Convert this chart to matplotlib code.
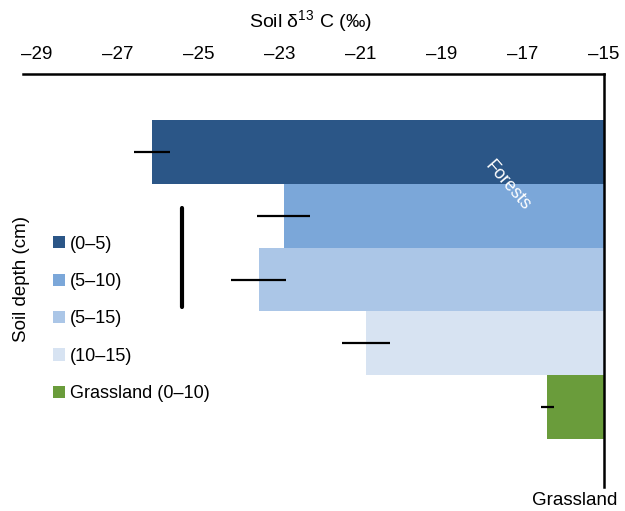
import matplotlib
matplotlib.use("Agg")
import matplotlib.pyplot as plt
from matplotlib.patches import Patch

plt.rcParams['font.family'] = ['Liberation Sans', 'DejaVu Sans']
plt.rcParams['mathtext.fontset'] = 'custom'
plt.rcParams['mathtext.rm'] = 'Liberation Sans'
plt.rcParams['mathtext.it'] = 'Liberation Sans:italic'
plt.rcParams['mathtext.bf'] = 'Liberation Sans:bold'

categories = ["(0–5)", "(5–10)", "(5–15)", "(10–15)", "Grassland (0–10)"]
values = [-26.15, -22.9, -23.52, -20.87, -16.4]
errors = [0.44, 0.65, 0.67, 0.60, 0.16]
colors = ["#2b5687", "#7ba7d9", "#abc6e7", "#d7e3f2", "#6a9c3b"]
xticks = [-29, -27, -25, -23, -21, -19, -17, -15]
xtick_labels = ["–29", "–27", "–25", "–23", "–21", "–19", "–17", "–15"]
bracket_x = [-25.41, -25.41]
bracket_y = [0.87, 2.43]
baseline = -15

fig = plt.figure(figsize=(6.25, 5.11), dpi=100)
ax = fig.add_axes([0.0368, 0.047, 0.9296, 0.8082])

ypos = list(range(len(values)))
widths = [baseline - v for v in values]
ax.barh(ypos, widths, left=values, height=1.0, color=colors, edgecolor='none', zorder=2)
ax.errorbar(values, ypos, xerr=errors, fmt='none', ecolor='black', elinewidth=1.6, capsize=0, zorder=3)
ax.plot(bracket_x, bracket_y, color='black', linewidth=3, solid_capstyle='round', zorder=3)

ax.set_xlim(-29.33, -15)
ax.set_ylim(5.26, -1.23)

ax.xaxis.tick_top()
ax.set_xticks(xticks)
ax.set_xticklabels(xtick_labels, fontsize=13.5)
ax.tick_params(axis='x', length=0, pad=8)
ax.set_yticks([])

for s in ['left', 'bottom']:
    ax.spines[s].set_visible(False)
ax.spines['top'].set_linewidth(1.8)
ax.spines['right'].set_linewidth(1.8)

ax.text(-17.38, 0.52, "Forests", rotation=-49, color='white', fontsize=13,
        ha='center', va='center', rotation_mode='anchor', zorder=4)
fig.text(0.496, 0.959, "Soil δ$^{13}$ C (‰)", fontsize=14, ha='center', va='center')
fig.text(0.92, 0.021, "Grassland", fontsize=13.5, ha='center', va='center')
fig.text(0.0352, 0.454, "Soil depth (cm)", rotation=90, fontsize=13.5, ha='center', va='center')

handles = [Patch(facecolor=c, edgecolor='none') for c in colors]
leg = fig.legend(handles, categories, loc='upper left', bbox_to_anchor=(0.0733, 0.553),
                 frameon=False, fontsize=13, handlelength=0.66, handleheight=0.66,
                 handletextpad=0.3, labelspacing=1.13, borderaxespad=0)

fig.savefig("out.png", dpi=100)
